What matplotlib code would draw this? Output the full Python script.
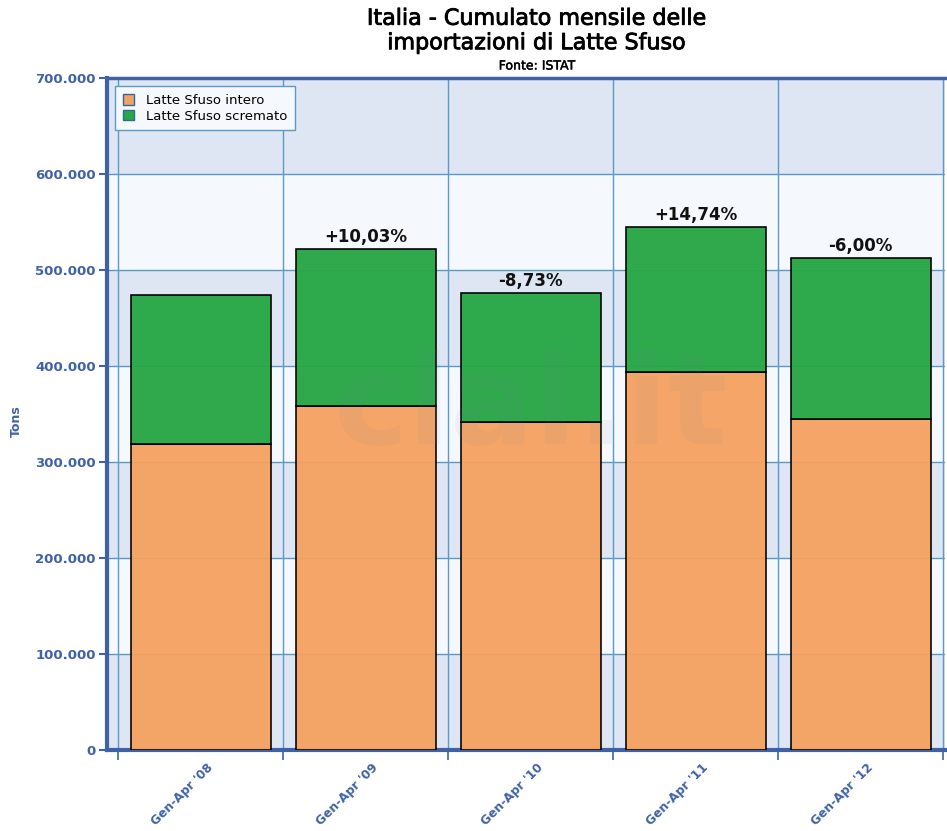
import matplotlib
matplotlib.use("Agg")
import matplotlib.pyplot as plt
from matplotlib.patches import Patch
from matplotlib.transforms import ScaledTranslation
import matplotlib.patheffects as pe
import numpy as np

categories = ["Gen-Apr '08", "Gen-Apr '09", "Gen-Apr '10", "Gen-Apr '11", "Gen-Apr '12"]
intero = [319000, 358000, 342000, 394000, 345000]
scremato = [155000, 164000, 134000, 151000, 168000]
pct_labels = ["", "+10,03%", "-8,73%", "+14,74%", "-6,00%"]
yticks = [0, 100000, 200000, 300000, 400000, 500000, 600000, 700000]
ytick_labels = ["0", "100.000", "200.000", "300.000", "400.000", "500.000", "600.000", "700.000"]

BLUE = "#3f62a6"
GRID = "#5a9ac6"
ORANGE = "#f4a262"
GREEN = "#28a745"

fig = plt.figure(figsize=(9.47, 8.31), dpi=100)
ax = fig.add_axes([107/947, 1-750/831, (945-107)/947, (750-78)/831])

x = np.arange(len(categories))
ax.set_xlim(-0.5 - 11/165, 4.5 + 2/165)
ax.set_ylim(0, 700000)

# alternating bands
for i in range(len(yticks) - 1):
    col = "#dfe6f3" if i % 2 == 0 else "#f5f8fc"
    ax.axhspan(yticks[i], yticks[i+1], color=col, zorder=0, lw=0)

# grid
for y in yticks[1:]:
    ax.axhline(y, color=GRID, lw=1, zorder=1)
for b in np.arange(-0.5, 4.6, 1.0):
    ax.axvline(b, color=GRID, lw=1, zorder=1)

ax.bar(x, intero, width=140/165, color=ORANGE, edgecolor="black", lw=1.2, zorder=3, alpha=0.97)
ax.bar(x, scremato, bottom=intero, width=140/165, color=GREEN, edgecolor="black", lw=1.2, zorder=3, alpha=0.97)

totals = [a + b for a, b in zip(intero, scremato)]
for xi, t, lab in zip(x, totals, pct_labels):
    if lab:
        ax.annotate(lab, (xi, t), xytext=(0, 2), textcoords="offset points",
                    ha="center", va="bottom", fontsize=12, fontweight="bold", color="#111111", zorder=5)

# watermark
ax.text(2.0, 355000, "clal.it", fontsize=90, fontweight="bold", color="#7a8aa8", alpha=0.07,
        ha="center", va="center", zorder=4)

ax.set_yticks(yticks)
ax.set_yticklabels(ytick_labels, fontsize=9.5, fontweight="bold", color=BLUE)
ax.set_xticks(np.arange(-0.5, 4.6, 1.0))
ax.set_xticklabels([])
ax.set_xticks(x, minor=True)
ax.set_xticklabels(categories, minor=True, rotation=45, ha="right", va="center", rotation_mode="anchor",
                   fontsize=8.8, fontweight="bold", color=BLUE)
ax.tick_params(axis="x", which="minor", length=0, pad=11)
ax.tick_params(axis="x", which="major", length=7, color=BLUE, width=1.2, direction="out")
ax.tick_params(axis="y", length=6, color=BLUE, width=1.5, direction="out", pad=2)
shift = ScaledTranslation(0.11, 0, fig.dpi_scale_trans)
for lbl in ax.get_xticklabels(minor=True):
    lbl.set_transform(lbl.get_transform() + shift)

for s in ["top", "right"]:
    ax.spines[s].set_visible(False)
ax.spines["left"].set_color(BLUE)
ax.spines["left"].set_linewidth(3)
ax.spines["bottom"].set_color(BLUE)
ax.spines["bottom"].set_linewidth(3)
ax.axhline(700000, color=BLUE, lw=2.5, zorder=2, clip_on=False)

ax.set_ylabel("Tons", fontsize=9, fontweight="bold", color=BLUE)
ax.yaxis.set_label_coords((23 - 107) / 838, 0.49)

handles = [Patch(facecolor=ORANGE, edgecolor="#2a6aa0"), Patch(facecolor=GREEN, edgecolor="#2a6aa0")]
leg = ax.legend(handles, ["Latte Sfuso intero", "Latte Sfuso scremato"], loc="upper left",
                bbox_to_anchor=(8/838, 1 - 8/672), borderaxespad=0, fontsize=9.5, frameon=True,
                fancybox=False, handlelength=0.85, handleheight=0.85, handletextpad=0.9,
                borderpad=0.6, labelspacing=0.2)
leg.get_frame().set_edgecolor(GRID)
leg.get_frame().set_facecolor("#f5f8fc")
leg.get_frame().set_alpha(1)
leg.get_frame().set_linewidth(1)
leg.set_zorder(6)

thick = [pe.withStroke(linewidth=0.6, foreground="black")]
fig.text(537/947, 1 - 31/831, "Italia - Cumulato mensile delle\nimportazioni di Latte Sfuso",
         ha="center", va="center", fontsize=16, linespacing=1.28, path_effects=thick)
fig.text(537/947, 1 - 66/831, "Fonte: ISTAT", ha="center", va="center", fontsize=9,
         path_effects=[pe.withStroke(linewidth=0.3, foreground="black")])

fig.savefig("out.png", dpi=100)
